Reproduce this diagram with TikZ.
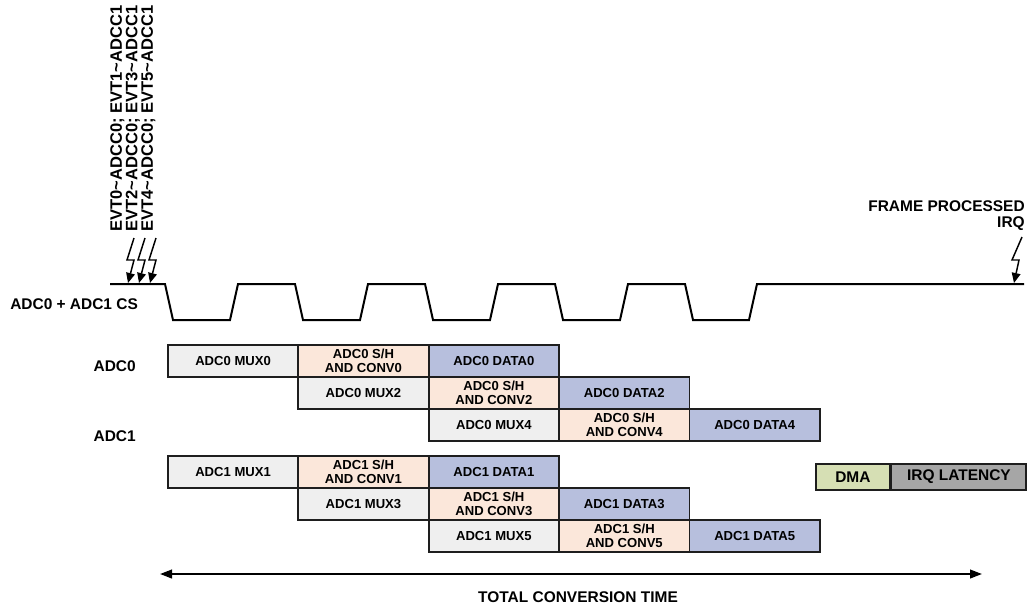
\documentclass[tikz,border=0pt]{standalone}
\usepackage{fontspec}
\setmainfont{Liberation Sans}
\usetikzlibrary{arrows.meta}
\definecolor{muxc}{HTML}{EFEFEF}
\definecolor{shc}{HTML}{FBE7DA}
\definecolor{datac}{HTML}{B7BFDD}
\definecolor{dmac}{HTML}{D6DFB4}
\definecolor{irqc}{HTML}{A6A6A6}
\definecolor{edgec}{HTML}{1E1E1E}
\tikzset{
  tbox/.style={draw=edgec, line width=1.3pt, inner sep=0pt, anchor=north west,
    minimum width=97.8pt, minimum height=24pt, align=center,
    font=\fontsize{9.8}{10}\selectfont\bfseries},
  muxbox/.style={tbox, fill=muxc},
  shbox/.style={tbox, fill=shc},
  databox/.style={tbox, fill=datac},
  biglabel/.style={font=\fontsize{11.6}{12}\selectfont\bfseries, inner sep=0pt},
  evtlabel/.style={font=\fontsize{12.4}{12}\selectfont\bfseries, inner sep=0pt, rotate=90, anchor=west},
  wave/.style={line width=1.5pt, line join=miter},
  bolt/.style={line width=1.1pt, -{Triangle[length=7.5pt,width=6.5pt]}},
}
\begin{document}
\begin{tikzpicture}[x=0.75pt,y=-0.75pt]
\useasboundingbox (0,0) rectangle (1028,604);

% event labels
\node[evtlabel] (e0) at (117.5,232) {EVT0\textasciitilde ADCC0; EVT1\textasciitilde ADCC1};
\node[evtlabel] (e1) at (133,232) {EVT2\textasciitilde ADCC0; EVT3\textasciitilde ADCC1};
\node[evtlabel] (e2) at (148.5,232) {EVT4\textasciitilde ADCC0; EVT5\textasciitilde ADCC1};

% frame processed label
\node[biglabel, anchor=east, align=right] (fp) at (1025,216) {FRAME PROCESSED\\IRQ};

% lightning bolts
\foreach \dx in {0,11,22} {
  \draw[bolt] (134+\dx,238) -- (127+\dx,260) -- (134+\dx,260) -- (128+\dx,283);
}
\draw[bolt] (1022,237) -- (1012,260) -- (1019,260) -- (1014,283);

% CS waveform
\node[biglabel, anchor=west] (cs) at (10,304) {ADC0 + ADC1 CS};
\draw[wave] (110,284) -- (165,284) -- (173,320) -- (230,320) -- (238,284)
  -- (295,284) -- (303,320) -- (360,320) -- (368,284)
  -- (425,284) -- (433,320) -- (490,320) -- (498,284)
  -- (555,284) -- (563,320) -- (620,320) -- (628,284)
  -- (685,284) -- (693,320) -- (749,320) -- (757,284) -- (1024,284);

% ADC0
\node[biglabel, anchor=east] (l0) at (136,366) {ADC0};
\node[muxbox]  (a0m0) at (167,344)   {ADC0 MUX0};
\node[shbox]   (a0s0) at (297.4,344) {ADC0 S/H\\AND CONV0};
\node[databox] (a0d0) at (427.8,344) {ADC0 DATA0};
\node[muxbox]  (a0m2) at (297.4,376) {ADC0 MUX2};
\node[shbox]   (a0s2) at (427.8,376) {ADC0 S/H\\AND CONV2};
\node[databox] (a0d2) at (558.2,376) {ADC0 DATA2};
\node[muxbox]  (a0m4) at (427.8,408) {ADC0 MUX4};
\node[shbox]   (a0s4) at (558.2,408) {ADC0 S/H\\AND CONV4};
\node[databox] (a0d4) at (688.6,408) {ADC0 DATA4};

% ADC1
\node[biglabel, anchor=east] (l1) at (136,436) {ADC1};
\node[muxbox]  (a1m1) at (167,455)   {ADC1 MUX1};
\node[shbox]   (a1s1) at (297.4,455) {ADC1 S/H\\AND CONV1};
\node[databox] (a1d1) at (427.8,455) {ADC1 DATA1};
\node[muxbox]  (a1m3) at (297.4,487) {ADC1 MUX3};
\node[shbox]   (a1s3) at (427.8,487) {ADC1 S/H\\AND CONV3};
\node[databox] (a1d3) at (558.2,487) {ADC1 DATA3};
\node[muxbox]  (a1m5) at (427.8,519) {ADC1 MUX5};
\node[shbox]   (a1s5) at (558.2,519) {ADC1 S/H\\AND CONV5};
\node[databox] (a1d5) at (688.6,519) {ADC1 DATA5};

% DMA / IRQ latency
\node[tbox, fill=dmac, minimum width=55.5pt, minimum height=19.5pt,
  font=\fontsize{11.6}{12}\selectfont\bfseries] (dma) at (815,463) {DMA};
\node[tbox, fill=irqc, minimum width=101pt, minimum height=19.5pt,
  font=\fontsize{11.6}{12}\selectfont\bfseries, anchor=north west] (irq) at (dma.north east) {IRQ LATENCY};

% total conversion time
\coordinate (tl) at (160,574);
\coordinate (tr) at (982,574);
\draw[line width=1.5pt, {Triangle[length=9pt,width=6.5pt]}-{Triangle[length=9pt,width=6.5pt]}] (tl) -- (tr);
\node[biglabel] (tot) at (578,597) {TOTAL CONVERSION TIME};
\end{tikzpicture}
\end{document}
